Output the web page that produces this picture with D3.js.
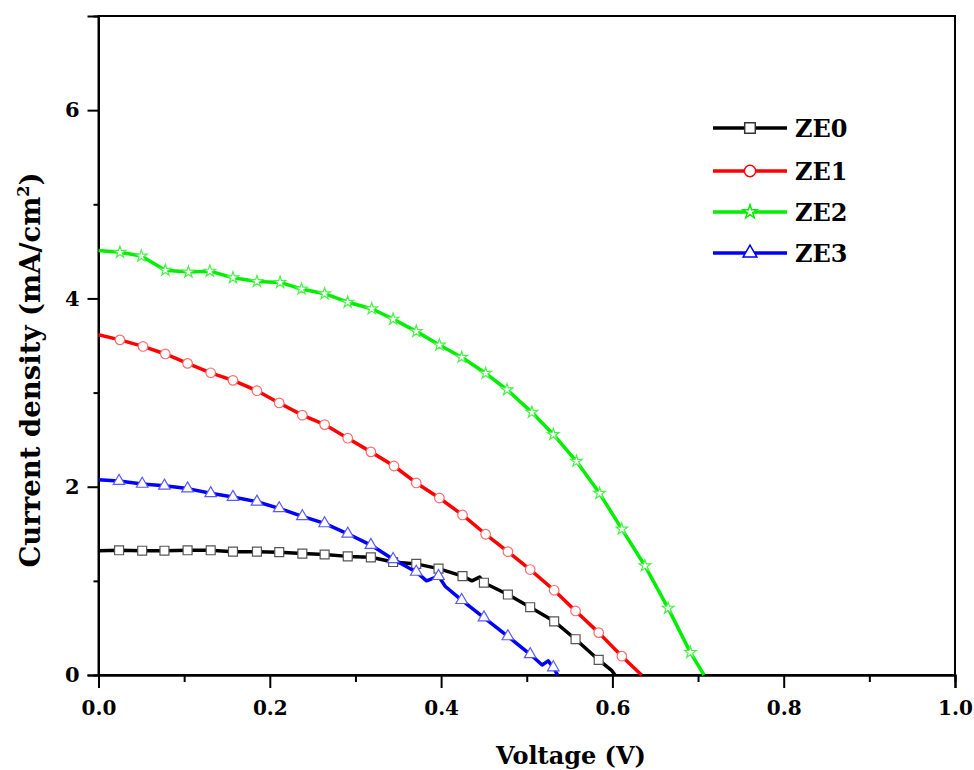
<!DOCTYPE html>
<html>
<head>
<meta charset="utf-8">
<script src="https://cdn.jsdelivr.net/npm/d3@7"></script>
<style>
  body { margin: 0; background: #fff; }
  svg text { font-family: "DejaVu Serif", serif; font-weight: bold; fill: #000; }
</style>
</head>
<body>
<div id="chart"></div>
<script>
// J-V curves, [voltage (V), current density (mA/cm2)]
// marked points (symbols drawn) and extra unmarked points of the trace
const ze0Marked = [[0.024,1.325],[0.051,1.32],[0.077,1.32],[0.104,1.325],[0.131,1.325],[0.157,1.31],[0.185,1.31],[0.211,1.305],[0.238,1.29],[0.264,1.28],[0.291,1.26],[0.318,1.25],[0.344,1.20],[0.371,1.18],[0.397,1.13],[0.425,1.05],[0.450,0.98],[0.478,0.855],[0.504,0.72],[0.532,0.57],[0.557,0.38],[0.584,0.16]];
const ze0Extra = [[0,1.32],[0.436,1.0],[0.445,1.04],[0.599,0.05],[0.603,0]];

const ze1Marked = [[0.025,3.56],[0.052,3.49],[0.078,3.41],[0.104,3.31],[0.131,3.21],[0.157,3.13],[0.185,3.02],[0.211,2.89],[0.238,2.76],[0.264,2.66],[0.291,2.515],[0.318,2.37],[0.345,2.22],[0.371,2.04],[0.398,1.88],[0.425,1.70],[0.452,1.495],[0.478,1.31],[0.504,1.12],[0.532,0.90],[0.557,0.68],[0.584,0.45],[0.611,0.20]];
const ze1Extra = [[0,3.615],[0.634,0]];

const ze2Marked = [[0.025,4.49],[0.050,4.45],[0.078,4.30],[0.105,4.28],[0.130,4.29],[0.157,4.22],[0.185,4.18],[0.212,4.17],[0.237,4.10],[0.264,4.05],[0.291,3.96],[0.319,3.89],[0.344,3.78],[0.371,3.65],[0.398,3.505],[0.424,3.375],[0.452,3.205],[0.477,3.03],[0.506,2.79],[0.531,2.555],[0.558,2.27],[0.585,1.93],[0.611,1.55],[0.638,1.16],[0.665,0.71],[0.691,0.24]];
const ze2Extra = [[0,4.51],[0.707,0]];

const ze3Marked = [[0.024,2.06],[0.051,2.03],[0.077,2.01],[0.104,1.98],[0.131,1.93],[0.157,1.89],[0.185,1.84],[0.211,1.77],[0.238,1.685],[0.264,1.61],[0.291,1.50],[0.318,1.38],[0.344,1.23],[0.371,1.095],[0.397,1.05],[0.424,0.795],[0.450,0.61],[0.478,0.41],[0.504,0.22],[0.531,0.08]];
const ze3Extra = [[0,2.075],[0.383,1.0],[0.405,0.94],[0.518,0.106],[0.525,0.15],[0.536,0]];

const seriesNames = ['ZE0', 'ZE1', 'ZE2', 'ZE3'];
const xTicks = [0, 0.2, 0.4, 0.6, 0.8, 1.0];
const yTicks = [0, 2, 4, 6];

const width = 974, height = 770;
const margin = { top: 16, right: 19, bottom: 95, left: 98.5 };

const series = [
  { name: 'ZE0', marked: ze0Marked, extra: ze0Extra, color: '#000000', edge: '#555555', symbol: d3.symbolSquare, size: 80 },
  { name: 'ZE1', marked: ze1Marked, extra: ze1Extra, color: '#ff0000', edge: '#ff6a6a', symbol: d3.symbolCircle, size: 72 },
  { name: 'ZE2', marked: ze2Marked, extra: ze2Extra, color: '#00ee00', edge: '#4cf04c', symbol: d3.symbolStar, size: 42 },
  { name: 'ZE3', marked: ze3Marked, extra: ze3Extra, color: '#0000ff', edge: '#5a5aff', symbol: d3.symbolTriangle, size: 58 }
];

const svg = d3.select('#chart').append('svg')
  .attr('width', width).attr('height', height);

const x = d3.scaleLinear().domain([0, 1]).range([margin.left, width - margin.right]);
const y = d3.scaleLinear().domain([0, 7]).range([height - margin.bottom, margin.top]);

// frame
svg.append('rect')
  .attr('x', x(0)).attr('y', y(7))
  .attr('width', x(1) - x(0)).attr('height', y(0) - y(7))
  .attr('fill', 'none').attr('stroke', '#000').attr('stroke-width', 2);

// axes
const xAxis = svg.append('g')
  .attr('transform', `translate(0,${y(0)})`)
  .call(d3.axisBottom(x).tickValues(xTicks).tickFormat(d3.format('.1f')).tickSize(13).tickPadding(13));
const xMinor = svg.append('g')
  .attr('transform', `translate(0,${y(0)})`)
  .call(d3.axisBottom(x).tickValues([0.1, 0.3, 0.5, 0.7, 0.9]).tickFormat('').tickSize(7));

const yAxis = svg.append('g')
  .attr('transform', `translate(${x(0)},0)`)
  .call(d3.axisLeft(y).tickValues(yTicks).tickFormat(d3.format('d')).tickSize(11).tickPadding(8));
const yMinor = svg.append('g')
  .attr('transform', `translate(${x(0)},0)`)
  .call(d3.axisLeft(y).tickValues([1, 3, 5]).tickFormat('').tickSize(5));

[xAxis, xMinor, yAxis, yMinor].forEach(g => {
  g.select('.domain').attr('stroke-width', 2);
  g.selectAll('.tick line').attr('stroke-width', 2);
});
xAxis.selectAll('text').style('font-size', '20px').style('font-family', '"DejaVu Serif", serif');
yAxis.selectAll('text').style('font-size', '21px').style('font-family', '"DejaVu Serif", serif');

// axis titles
svg.append('text')
  .attr('x', 571).attr('y', 764)
  .attr('text-anchor', 'middle')
  .style('font-size', '24px')
  .text('Voltage (V)');

const yTitle = svg.append('text')
  .attr('transform', 'translate(40,370) rotate(-90)')
  .attr('text-anchor', 'middle')
  .style('font-size', '27.5px');
yTitle.append('tspan').text('Current density (mA/cm');
yTitle.append('tspan').attr('dy', -11).style('font-size', '16px').text('2');
yTitle.append('tspan').attr('dy', 11).text(')');

// curves
const line = d3.line().x(d => x(d[0])).y(d => y(d[1]));

series.forEach(s => {
  const pts = s.marked.concat(s.extra).sort((a, b) => a[0] - b[0]);
  svg.append('path')
    .datum(pts)
    .attr('d', line)
    .attr('fill', 'none')
    .attr('stroke', s.color)
    .attr('stroke-width', 3.5)
    .attr('stroke-linejoin', 'round');

  svg.append('g').selectAll('path')
    .data(s.marked)
    .join('path')
    .attr('transform', d => `translate(${x(d[0])},${y(d[1])})`)
    .attr('d', d3.symbol().type(s.symbol).size(s.size))
    .attr('fill', '#fff')
    .attr('stroke', s.edge)
    .attr('stroke-width', 1.2);
});

// legend
const legend = svg.append('g');
const legendY = [128, 171, 212, 253];
series.forEach((s, i) => {
  const g = legend.append('g').attr('transform', `translate(0,${legendY[i]})`);
  g.append('line')
    .attr('x1', 713).attr('x2', 787)
    .attr('stroke', s.color).attr('stroke-width', 3.5);
  g.append('path')
    .attr('transform', 'translate(750,0)')
    .attr('d', d3.symbol().type(s.symbol).size(s.size * 1.4))
    .attr('fill', '#fff')
    .attr('stroke', s.edge === '#555555' ? '#333' : s.color)
    .attr('stroke-width', 1.5);
  g.append('text')
    .attr('x', 795).attr('y', 9)
    .style('font-size', '24px')
    .text(seriesNames[i]);
});
</script>
</body>
</html>
